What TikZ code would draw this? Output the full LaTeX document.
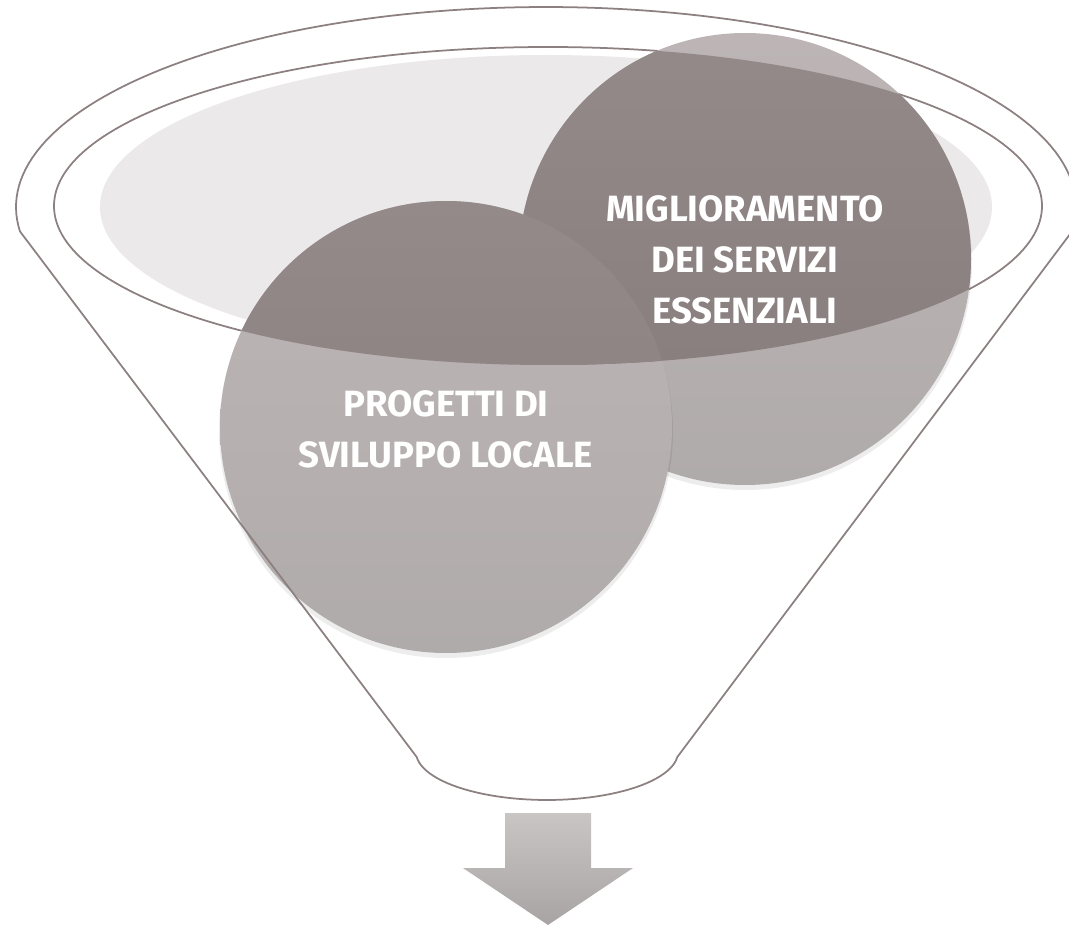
\documentclass[tikz,border=0pt]{standalone}
\usepackage{fontspec}
\newfontfamily\bubblefont{Fira Sans}
\usepackage{tikz}

\definecolor{funnelline}{RGB}{140,128,128}
\definecolor{bowlfill}{RGB}{235,233,234}
\definecolor{bubbletop}{RGB}{189,181,181}
\definecolor{bubblebot}{RGB}{176,171,171}
\definecolor{darktop}{RGB}{149,138,138}
\definecolor{darkbot}{RGB}{133,123,123}
\definecolor{arrowtop}{RGB}{201,197,197}
\definecolor{arrowbot}{RGB}{168,164,164}

\begin{document}
\begin{tikzpicture}[x=0.02cm,y=-0.02cm]
	\tikzstyle{rim}=[draw=funnelline,line width=1pt]
	\tikzstyle{bubble}=[top color=bubbletop,bottom color=bubblebot]
	\tikzstyle{inside}=[top color=darktop,bottom color=darkbot]
	\tikzstyle{halo}=[fill=black,opacity=0.07]
	\tikzstyle{bubbletext}=[text=white,align=center,font=\bubblefont\bfseries\fontsize{20.8}{29}\selectfont]
	
	\useasboundingbox (0,0) rectangle (1069,929);
	
	% bowl of the funnel
	\fill[bowlfill] (546,207) ellipse [x radius=446, y radius=152];
	\draw[rim] (548,206) ellipse [x radius=494, y radius=159];
	
	% the two bubbles
	\fill[halo] (745,263) circle [radius=227];
	\shade[bubble] (745,259) circle [radius=226];
	\fill[halo] (446,431) circle [radius=227];
	\shade[bubble] (446,427) circle [radius=226];
	\begin{scope}
		\clip (548,206) ellipse [x radius=494, y radius=159];
		\shade[inside] (745,259) circle [radius=226];
		\fill[halo] (446,431) circle [radius=227];
		\shade[inside] (446,427) circle [radius=226];
	\end{scope}
	
	% outline of the funnel
	\draw[rim] plot[domain=7:-187,samples=120] ({546+530*cos(\x)},{207+200*sin(\x)})
		-- plot[domain=174:6,samples=50] ({547+131*cos(\x)},{752+48*sin(\x)}) -- cycle;
	
	\node[bubbletext] (servizi) at (745,260) {MIGLIORAMENTO\\DEI SERVIZI\\ESSENZIALI};
	\node[bubbletext] (sviluppo) at (446,429) {PROGETTI DI\\SVILUPPO LOCALE};
	
	% arrow out of the funnel
	\shade[top color=arrowtop,bottom color=arrowbot] (505,813) -- (591,813) -- (591,868) -- (633,868)
		-- (548,925) -- (463,868) -- (505,868) -- cycle;
	
\end{tikzpicture}
\end{document}
